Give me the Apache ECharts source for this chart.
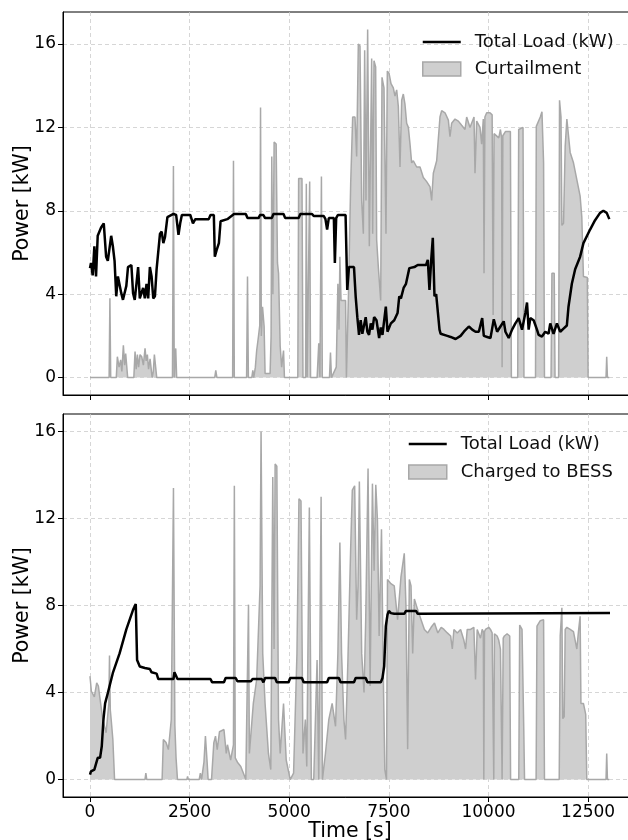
<!DOCTYPE html>
<html><head><meta charset="utf-8">
<script src="https://cdn.jsdelivr.net/npm/echarts@6/dist/echarts.min.js"></script>
<style>html,body{margin:0;padding:0;background:#fff}#c{width:628px;height:840px}</style>
</head><body><div id="c"></div>
<script>
const ticksX = [0, 2500, 5000, 7500, 10000, 12500];
const ticksY = [0, 4, 8, 12, 16];

const loadTopTime = [0,25,68,110,152,194,279,346,405,448,532,574,617,659,701,743,785,828,870,912,954,1039,1081,1123,1166,1208,1250,1292,1334,1377,1419,1461,1503,1546,1588,1630,1672,1757,1799,1841,1883,1943,2095,2162,2221,2264,2306,2517,2584,2644,2981,3024,3108,3133,3176,3235,3277,3446,3615,3910,3953,4230,4268,4352,4394,4562,4604,4857,4899,5236,5278,5572,5615,5867,5909,5951,5993,6120,6145,6178,6220,6414,6456,6498,6625,6667,6709,6751,6793,6835,6919,6961,7003,7046,7088,7130,7190,7256,7298,7340,7382,7424,7466,7551,7635,7719,7761,7803,7870,7930,8014,8140,8224,8434,8477,8519,8561,8603,8645,8687,8771,8800,8967,9050,9175,9300,9383,9508,9592,9675,9758,9842,9883,9967,10050,10092,10133,10217,10300,10383,10425,10508,10592,10675,10758,10842,10925,10967,11008,11050,11133,11217,11258,11342,11425,11508,11550,11633,11717,11800,11883,11967,12008,12092,12175,12300,12383,12550,12675,12800,12883,12967,13033];
const loadTopKW = [5.25,5.5,4.9,6.3,4.85,6.8,7.2,7.4,5.8,5.6,6.8,6.3,5.6,3.9,4.85,4.85,4.05,3.73,3.8,4.4,5.3,5.4,4.05,3.73,4.5,5.3,3.8,3.73,4.3,3.8,4.5,3.8,5.3,4.85,3.8,3.9,5.2,6.9,7.0,6.45,6.75,7.7,7.85,7.8,6.85,7.4,7.8,7.8,7.4,7.6,7.6,7.8,7.8,5.8,6.1,6.45,7.5,7.6,7.85,7.85,7.65,7.65,7.8,7.8,7.65,7.65,7.85,7.85,7.65,7.65,7.85,7.85,7.75,7.75,7.6,7.1,7.65,7.65,5.5,7.65,7.8,7.8,4.2,5.3,5.3,3.9,2.9,2.05,2.75,2.1,2.9,2.2,2.05,2.6,2.3,2.9,2.75,1.9,2.4,2.05,2.05,3.4,2.2,2.6,2.75,3.1,3.9,3.8,4.3,4.5,5.25,5.3,5.4,5.4,5.65,4.2,5.6,6.7,3.9,4.0,2.3,2.1,2.0,1.95,1.85,2.0,2.2,2.45,2.3,2.2,2.2,2.85,2.0,1.95,1.9,2.35,2.8,2.2,2.45,2.7,2.2,1.9,2.3,2.6,2.85,2.3,3.1,3.6,2.3,2.85,2.75,2.3,2.05,1.97,2.2,2.1,2.6,2.1,2.6,2.2,2.35,2.5,3.4,4.5,5.2,5.8,6.45,7.1,7.55,7.9,8.0,7.9,7.6];

const curtailTime = [0,480,500,520,660,687,730,770,800,838,870,896,946,1100,1131,1160,1189,1220,1256,1298,1340,1382,1410,1440,1470,1508,1560,1590,1616,1675,2070,2094,2115,2140,2152,2175,3130,3157,3185,3580,3601,3622,3930,3953,3975,4060,4087,4110,4150,4183,4230,4260,4280,4300,4330,4370,4394,4520,4545,4562,4590,4621,4672,4705,4732,4773,4810,4857,4880,5215,5236,5280,5320,5345,5410,5429,5450,5490,5513,5535,5700,5741,5770,5790,5808,5830,6010,6035,6060,6180,6221,6250,6271,6300,6414,6435,6450,6483,6542,6592,6650,6692,6734,6776,6818,6860,6893,6926,6968,7010,7069,7094,7127,7169,7194,7236,7295,7328,7378,7428,7462,7504,7554,7612,7654,7696,7738,7780,7822,7863,7905,7947,7989,8031,8072,8114,8198,8282,8365,8449,8533,8574,8616,8700,8783,8825,8909,8993,9034,9076,9160,9244,9327,9411,9453,9536,9637,9662,9704,9787,9829,9870,9888,9910,9955,10038,10092,10117,10140,10175,10258,10300,10330,10342,10360,10425,10550,10575,10733,10758,10867,10890,11180,11200,11300,11342,11383,11405,11570,11592,11650,11670,11760,11783,11820,11842,11883,11925,11967,12050,12133,12217,12300,12342,12383,12480,12500,12950,12967,12985,13030];
const curtailKW = [0,0,3.8,0,0,1.0,0.5,0.85,0.3,1.55,0.6,1.15,0,0,1.25,0.4,1.1,0.5,1.1,1.0,0.6,1.4,0.8,1.1,0.4,0.9,0,0.3,1.1,0,0,10.15,0,0,1.4,0,0,0.35,0,0,10.4,0,0,4.85,0,0,0.35,0,0.5,1.3,2.0,2.5,12.95,2.0,3.4,2.45,0.2,0.2,2.0,10.6,4.0,11.3,11.2,5.5,5.0,1.5,0.5,1.3,0,0,9.55,9.5,9.55,0,0,9.3,0,0,9.4,0,0,1.65,0,0,9.65,0,0,1.2,0,0.5,4.5,2.3,5.8,3.7,3.7,0,0,3.7,9.3,12.5,12.5,10.6,16.0,15.9,8.5,6.9,15.7,8.5,16.7,6.3,15.3,6.9,15.2,14.9,6.6,5.3,3.7,14.4,13.9,6.9,14.7,14.6,14.1,13.9,13.5,13.8,13.0,10.1,13.3,13.6,13.1,12.2,12.0,11.2,10.3,10.4,10.1,10.1,9.6,9.4,9.15,8.5,9.8,10.4,12.5,12.8,12.7,12.35,11.55,12.2,12.4,12.3,12.1,11.9,12.5,12.0,12.5,9.8,12.3,12.0,11.2,12.4,5.0,12.5,12.7,12.7,12.6,3.0,11.7,11.7,11.5,11.9,11.5,0.5,11.6,11.8,11.8,0,0,11.9,12.0,0,0,12.05,12.5,12.75,10.3,0,0,5.0,5.0,0,0,13.3,12.5,7.3,7.4,11.1,12.4,10.8,10.3,9.5,8.7,7.7,4.85,4.8,0,0,1.0,0,0];

const loadBotTime = [0,25,110,152,194,253,296,338,380,448,574,743,912,1081,1149,1182,1250,1377,1503,1546,1672,1715,2095,2120,2160,2196,3024,3066,3362,3404,3657,3699,4037,4080,4310,4352,4394,4646,4689,4983,5025,5320,5362,5951,5993,6246,6288,6625,6667,6919,6961,7298,7340,7382,7424,7466,7500,7551,7635,7887,7929,8182,8224,13050];
const loadBotKW = [0.23,0.38,0.46,0.54,1.0,1.0,1.53,2.76,3.5,3.98,4.9,5.8,6.9,7.8,8.07,5.5,5.2,5.13,5.08,4.93,4.87,4.62,4.62,4.93,4.93,4.62,4.62,4.47,4.47,4.67,4.67,4.52,4.52,4.62,4.62,4.47,4.67,4.67,4.47,4.47,4.67,4.67,4.47,4.47,4.67,4.67,4.47,4.47,4.67,4.67,4.47,4.47,4.67,5.2,7.05,7.58,7.75,7.65,7.62,7.62,7.75,7.75,7.62,7.65];

const bessTime = [0,35,68,110,169,211,253,321,405,473,490,510,532,574,617,1380,1402,1425,1810,1841,1909,1968,2040,2095,2130,2160,2196,2430,2449,2470,2740,2770,2800,2860,2897,2940,2965,3050,3108,3150,3193,3250,3362,3420,3450,3530,3600,3623,3645,3700,3784,3870,3910,3960,3978,4000,4037,4099,4183,4268,4293,4335,4394,4478,4537,4587,4620,4646,4689,4731,4773,4857,4924,5025,5109,5194,5244,5295,5345,5404,5440,5505,5556,5615,5699,5741,5780,5800,5833,5909,5993,6077,6162,6221,6271,6313,6372,6414,6473,6541,6583,6642,6692,6726,6760,6818,6877,6919,6978,7029,7088,7130,7172,7214,7256,7315,7365,7399,7441,7466,7551,7635,7719,7803,7887,7929,7972,8014,8056,8098,8140,8224,8308,8392,8476,8561,8645,8729,8813,8883,8967,9050,9092,9133,9217,9300,9383,9425,9467,9550,9633,9675,9717,9800,9842,9870,9883,9900,9925,10008,10050,10092,10120,10133,10150,10175,10217,10258,10300,10320,10342,10370,10400,10467,10533,10555,10760,10783,10842,10883,10905,11195,11217,11300,11383,11405,11775,11800,11842,11865,11900,11925,11967,12050,12133,12217,12258,12300,12320,12383,12440,12467,12950,12967,12985,13030];
const bessKW = [4.75,4.06,3.98,3.8,4.44,4.3,3.7,2.76,2.15,3.5,5.7,3.2,2.76,1.84,0,0,0.3,0,0,1.84,1.7,1.38,2.76,13.4,2.5,1.0,0,0,0.15,0,0,0.3,0,0.8,2.0,0.8,0,0,1.7,2.0,1.38,2.2,2.3,1.2,1.6,0.9,1.6,13.5,1.0,0.8,0.6,0.2,0,0,8.04,1.2,1.2,3.5,4.6,8.9,16.0,5.8,3.5,1.2,0.46,13.9,6.0,14.5,14.4,2.76,1.2,3.5,0.9,0,0.3,5.8,12.9,12.8,1.2,2.76,0.6,12.5,0,0,5.5,0,0,13.0,0,1.2,2.76,3.5,2.45,5.8,10.9,5.8,2.76,1.84,5.5,10.6,13.3,13.5,7.35,8.9,13.7,5.8,4.0,7.35,14.3,4.3,13.6,9.6,13.55,11.9,6.6,11.5,4.3,0.46,0,9.2,9.0,8.9,7.35,9.3,10.4,8.0,1.4,9.2,8.9,5.8,8.3,7.8,7.35,6.9,6.74,7.0,7.2,6.74,7.0,6.9,6.74,6.6,6.0,6.9,6.74,6.9,6.4,6.0,6.9,6.9,7.0,4.6,6.9,6.5,6.9,6.8,0,6.8,6.9,7.0,6.9,6.74,6.7,0,6.7,6.74,6.6,6.4,6.0,6.0,0,6.5,6.6,6.7,6.6,0,0,7.1,6.9,2.6,0,0,7.05,7.3,7.35,0,0,6.6,7.9,2.8,2.9,6.9,7.0,6.9,6.8,6.0,6.8,7.5,3.5,3.5,3.0,0,0,1.2,0,0];

const pairs = (t, v) => t.map((x, i) => [x, v[i]]);
const FONT = 'DejaVu Sans';
const gridLine = { show: true, lineStyle: { color: '#cccccc', width: 0.8, type: [4, 3] } };

function xAxisFor(idx, showLabels) {
  return {
    type: 'value', gridIndex: idx, min: -677, max: 13727,
    axisLine: { show: true, onZero: false, lineStyle: { color: '#000', width: 1 } },
    axisTick: { show: true, inside: false, length: 5, customValues: ticksX, lineStyle: { color: '#000', width: 1 } },
    axisLabel: { show: showLabels, customValues: ticksX, formatter: v => String(v), fontSize: 17, color: '#000', margin: 7, fontFamily: FONT },
    splitLine: gridLine,
    name: showLabels ? 'Time [s]' : '', nameLocation: 'middle', nameGap: 24, nameMoveOverlap: false,
    nameTextStyle: { fontSize: 20.5, color: '#000', fontFamily: FONT }
  };
}
function yAxisFor(idx, mn, mx) {
  return {
    type: 'value', gridIndex: idx, min: mn, max: mx,
    axisLine: { show: true, onZero: false, lineStyle: { color: '#000', width: 1 } },
    axisTick: { show: true, inside: false, length: 5, customValues: ticksY, lineStyle: { color: '#000', width: 1 } },
    axisLabel: { customValues: ticksY, formatter: v => String(v), fontSize: 17, color: '#000', margin: 7, fontFamily: FONT },
    splitLine: gridLine,
    name: 'Power [kW]', nameLocation: 'middle', nameGap: 30, nameMoveOverlap: false,
    nameTextStyle: { fontSize: 20.5, color: '#000', fontFamily: FONT }
  };
}
function areaSeries(name, idx, data) {
  return {
    name, type: 'line', xAxisIndex: idx, yAxisIndex: idx, data, symbol: 'none', smooth: false, z: 1,
    lineStyle: { color: '#a8a8a8', width: 1.5 }, itemStyle: { color: '#cccccc' },
    areaStyle: { color: '#cfcfcf', opacity: 1 }
  };
}
function loadSeries(idx, data) {
  return {
    name: 'Total Load (kW)', type: 'line', xAxisIndex: idx, yAxisIndex: idx, data, symbol: 'none', smooth: false, z: 3,
    lineStyle: { color: '#000', width: 2.5 }, itemStyle: { color: '#000' }
  };
}
function legendFor(left, top, areaName, gap) {
  return {
    orient: 'vertical', left, top, itemWidth: 38, itemHeight: 14, itemGap: gap,
    textStyle: { fontSize: 18, color: '#111', fontFamily: FONT, padding: [0, 0, 0, 9] },
    selectedMode: false,
    data: [
      { name: 'Total Load (kW)', icon: 'path://M0,0M38,14M0,5.8L38,5.8L38,8.2L0,8.2Z', itemStyle: { color: '#000', borderWidth: 0 } },
      { name: areaName, icon: 'rect', itemStyle: { color: '#cfcfcf', borderColor: '#a8a8a8', borderWidth: 1.5 } }
    ]
  };
}

const gridBase = { left: 63, width: 574, height: 383, show: true, borderColor: '#000', borderWidth: 1,
  backgroundColor: 'transparent', containLabel: false, outerBoundsMode: 'none' };

const chart = echarts.init(document.getElementById('c'));
chart.setOption({
  animation: false,
  backgroundColor: '#fff',
  grid: [
    Object.assign({ top: 12 }, gridBase),
    Object.assign({ top: 414 }, gridBase)
  ],
  xAxis: [xAxisFor(0, false), xAxisFor(1, true)],
  yAxis: [yAxisFor(0, -0.835, 17.535), yAxisFor(1, -0.8, 16.8)],
  legend: [legendFor(417, 28, 'Curtailment', 9), legendFor(403, 430, 'Charged to BESS', 10)],
  series: [
    areaSeries('Curtailment', 0, pairs(curtailTime, curtailKW)),
    loadSeries(0, pairs(loadTopTime, loadTopKW)),
    areaSeries('Charged to BESS', 1, pairs(bessTime, bessKW)),
    loadSeries(1, pairs(loadBotTime, loadBotKW))
  ]
});
</script></body></html>
